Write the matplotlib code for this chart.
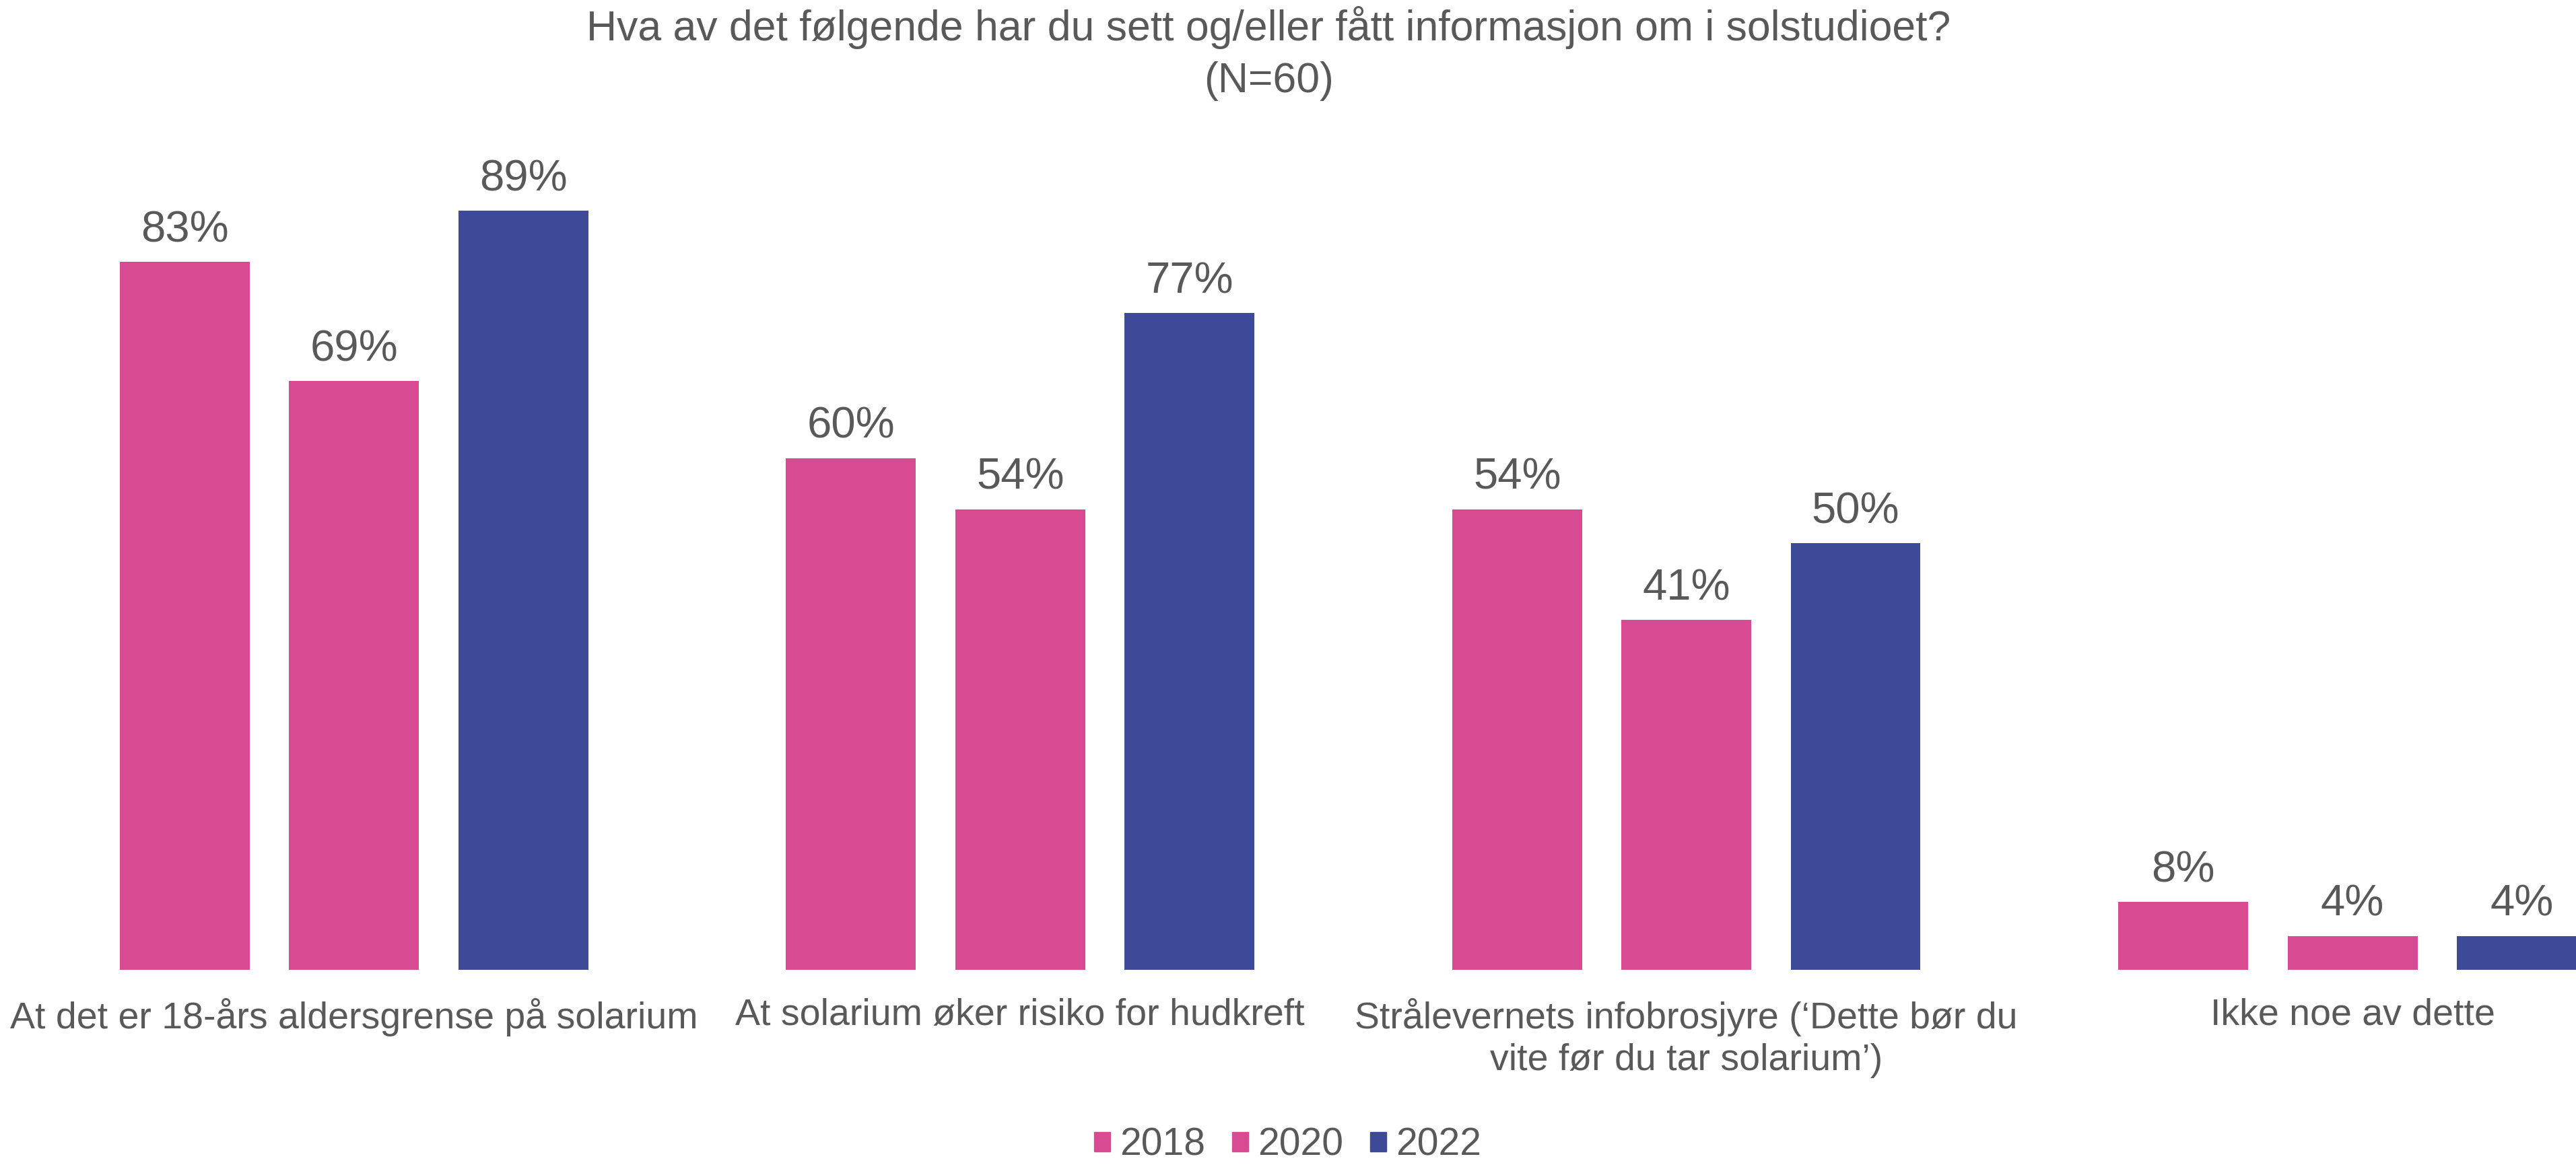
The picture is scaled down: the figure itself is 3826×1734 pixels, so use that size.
import matplotlib.pyplot as plt
import numpy as np
from matplotlib.patches import Patch

# data
categories = ["At det er 18-års aldersgrense på solarium",
              "At solarium øker risiko for hudkreft",
              "Strålevernets infobrosjyre (‘Dette bør du\nvite før du tar solarium’)",
              "Ikke noe av dette"]
years = ["2018", "2020", "2022"]
v2018 = [83, 60, 54, 8]
v2020 = [69, 54, 41, 4]
v2022 = [89, 77, 50, 4]

colors = ["#D84B93", "#D84B93", "#3C4A98"]
txt = "#595959"

plt.rcParams['font.family'] = ['Liberation Sans', 'DejaVu Sans']

fig = plt.figure(figsize=(38.26, 17.34), dpi=100)
ax = fig.add_axes([0, 0.1688, 1, 0.7312])

x = np.arange(len(categories))
step = 0.254
w = 0.195
for i, vals in enumerate([v2018, v2020, v2022]):
    bars = ax.bar(x + (i - 1) * step, vals, w, color=colors[i], label=years[i])
    ax.bar_label(bars, labels=[f"{v}%" for v in vals], padding=12,
                 fontsize=47, color=txt)

ax.set_xlim(-0.5314, 3.3354)
ax.set_ylim(0, 100)
ax.set_xticks(x)
ax.set_xticklabels(categories, fontsize=40, color=txt, linespacing=1.25)
ax.tick_params(axis='x', length=0, pad=30)
ax.set_yticks([])
for s in ax.spines.values():
    s.set_visible(False)

fig.text(0.4925, 0.995, "Hva av det følgende har du sett og/eller fått informasjon om i solstudioet?\n(N=60)",
         ha='center', va='top', fontsize=45, color=txt, linespacing=1.4)

handles = [Patch(color=c) for c in colors]
fig.legend(handles, years, loc='lower center', bbox_to_anchor=(0.5, -0.02), ncol=3,
           frameon=False, fontsize=41, labelcolor=txt, handlelength=0.42, handleheight=0.42,
           handletextpad=0.25, columnspacing=0.7, borderpad=0.2)

fig.savefig("out.png", dpi=100)
